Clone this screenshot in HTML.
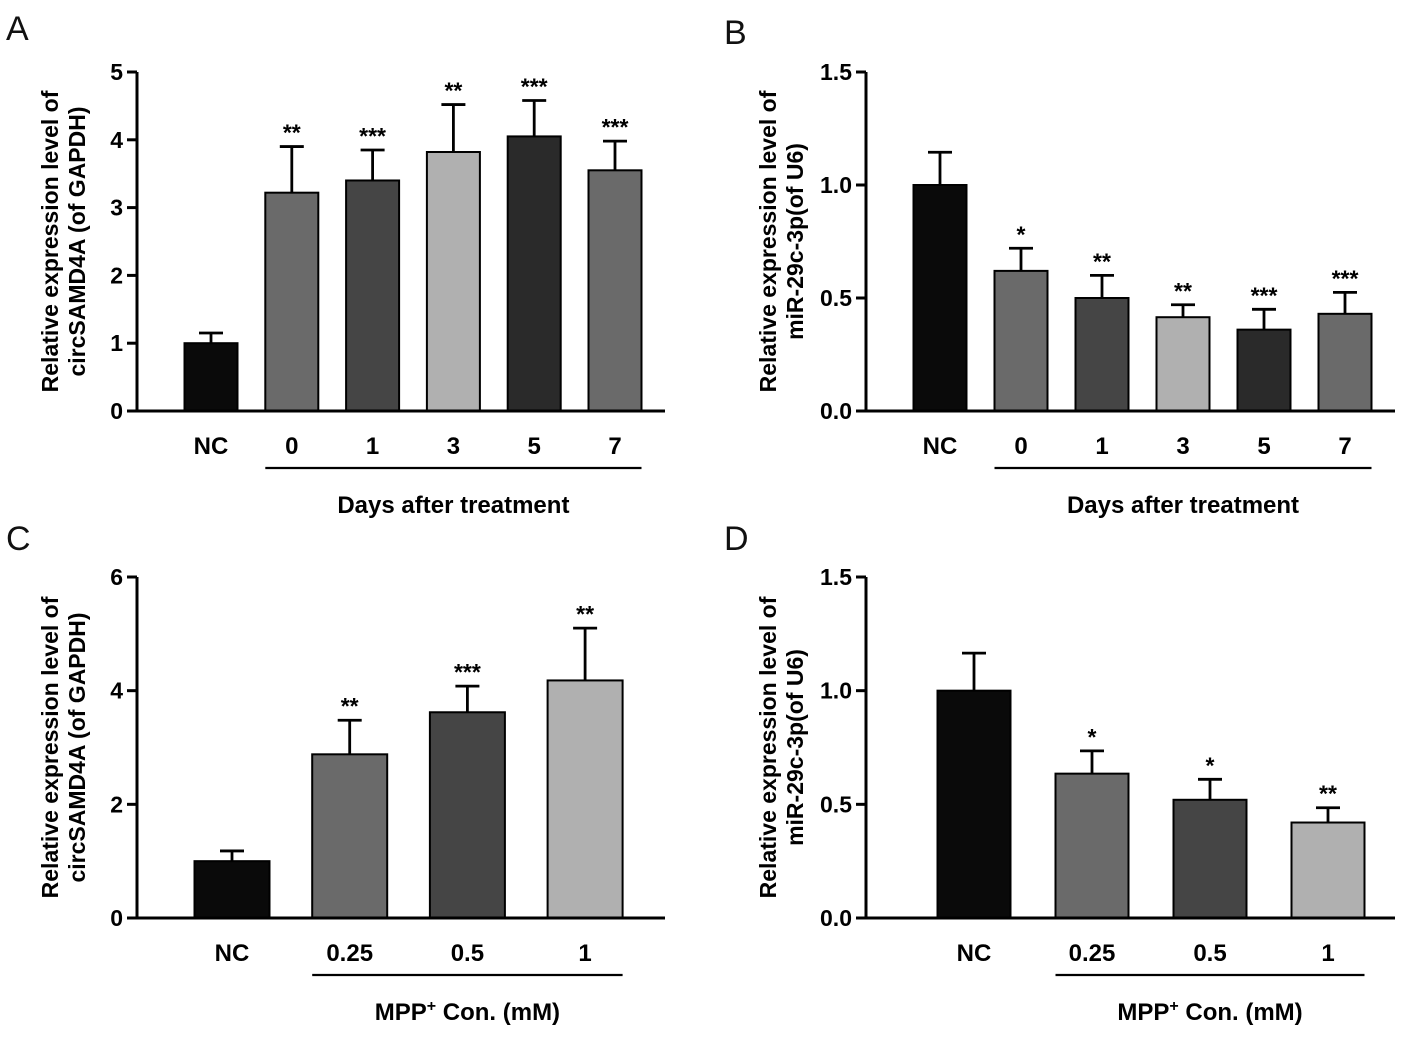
<!DOCTYPE html>
<html><head><meta charset="utf-8"><style>
html,body{margin:0;padding:0;background:#fff}
svg text{font-family:"Liberation Sans",Arial,sans-serif}
</style></head><body>
<svg id="fig" width="1427" height="1041" viewBox="0 0 1427 1041" xmlns="http://www.w3.org/2000/svg"></svg>
<script>
// Panel A data
const catsA = ["NC","0","1","3","5","7"];
const valsA = [1.0,3.22,3.4,3.82,4.05,3.55];
const errA = [0.15,0.68,0.45,0.7,0.53,0.43];
const sigA = ["","**","***","**","***","***"];
const ticksA = [0,1,2,3,4,5];
// Panel B data
const catsB = ["NC","0","1","3","5","7"];
const valsB = [1.0,0.62,0.5,0.415,0.36,0.43];
const errB = [0.145,0.1,0.1,0.055,0.09,0.095];
const sigB = ["","*","**","**","***","***"];
const ticksB = ["0.0","0.5","1.0","1.5"];
// Panel C data
const catsC = ["NC","0.25","0.5","1"];
const valsC = [1.0,2.88,3.62,4.18];
const errC = [0.18,0.6,0.46,0.92];
const sigC = ["","**","***","**"];
const ticksC = [0,2,4,6];
// Panel D data
const catsD = ["NC","0.25","0.5","1"];
const valsD = [1.0,0.635,0.52,0.42];
const errD = [0.165,0.1,0.09,0.065];
const sigD = ["","*","*","**"];
const ticksD = ["0.0","0.5","1.0","1.5"];

const colors6 = ["#0a0a0a","#6a6a6a","#454545","#b0b0b0","#2a2a2a","#6a6a6a"];
const colors4 = ["#0a0a0a","#6a6a6a","#454545","#b0b0b0"];
const NS="http://www.w3.org/2000/svg";
const svg=document.getElementById('fig');
function mk(tag,attrs,parent){const e=document.createElementNS(NS,tag);for(const k in attrs)e.setAttribute(k,attrs[k]);(parent||svg).appendChild(e);return e;}

function panel(o){
  const g=mk('g',{});
  
  
  const ymax=parseFloat(o.ticks[o.ticks.length-1]);
  const y=v=>o.y0-(v/ymax)*(o.y0-o.y1);
  const x=i=>o.xStart+i*o.step;
  const L=mk('text',{x:o.lx,y:o.ly,'font-size':34,fill:'#111'},g);L.textContent=o.letter;
  
  
  o.vals.forEach((v,i)=>{
    const cx=x(i);
    const b=mk('rect',{x:cx-o.bw/2,y:y(v),width:o.bw,height:o.y0-y(v),fill:o.colors[i],stroke:'#000','stroke-width':2},g);
    
    
    const top=y(v+o.err[i]);
    const e=mk('path',{d:`M${cx} ${y(v)}V${top}M${cx-12} ${top}H${cx+12}`,stroke:'#000','stroke-width':2.8,fill:'none'},g);
    
    
    if(o.sig[i]){const s=mk('text',{x:cx,y:top-6,'font-size':23,'font-weight':'bold','text-anchor':'middle'},g);s.textContent=o.sig[i];
      
      }
    const t=mk('text',{x:cx,y:o.y0+43,'font-size':24,'font-weight':'bold','text-anchor':'middle'},g);t.textContent=o.cats[i];
    
    
  });
  const ax=mk('path',{d:`M${o.ax} ${o.y1}V${o.y0}H${o.axEnd}`,stroke:'#000','stroke-width':3,fill:'none'},g);
  
  
  o.ticks.forEach(tk=>{
    const yy=y(parseFloat(tk));
    mk('line',{x1:o.ax-10,x2:o.ax,y1:yy,y2:yy,stroke:'#000','stroke-width':3},g);
    const t=mk('text',{x:o.ax-14,y:yy+8,'font-size':23,'font-weight':'bold','text-anchor':'end'},g);t.textContent=tk;
    
    
  });
  const yt=mk('text',{transform:`translate(${o.ytx},${(o.y0+o.y1)/2}) rotate(-90)`,'font-size':23,'font-weight':'bold','text-anchor':'middle'},g);
  
  
  o.ytitle.forEach((line,k)=>{const ts=mk('tspan',{x:0,y:k*27},yt);ts.textContent=line;});
  const ul=mk('line',{x1:x(1)-o.bw/2,x2:x(o.cats.length-1)+o.bw/2,y1:o.y0+57,y2:o.y0+57,stroke:'#000','stroke-width':2.2},g);
  
  
  const xt=mk('text',{x:(x(1)+x(o.cats.length-1))/2,y:o.y0+102,'font-size':24,'font-weight':'bold','text-anchor':'middle'},g);
  
  
  if(o.mpp){const a=mk('tspan',{},xt);a.textContent='MPP';const b=mk('tspan',{'font-size':16,dy:-9},xt);b.textContent='+';const c=mk('tspan',{dy:9},xt);c.textContent=' Con. (mM)';}
  else xt.textContent=o.xtitle;
}
panel({letter:'A',lx:6,ly:40,cats:catsA,vals:valsA,err:errA,sig:sigA,ticks:ticksA,colors:colors6,
  y0:411,y1:72,ax:137,axEnd:665,xStart:211,step:80.8,bw:53,ytx:58,ytitle:['Relative expression level of','circSAMD4A (of GAPDH)'],xtitle:'Days after treatment'});
panel({letter:'B',lx:724,ly:44,cats:catsB,vals:valsB,err:errB,sig:sigB,ticks:ticksB,colors:colors6,
  y0:411,y1:72,ax:866,axEnd:1395,xStart:940,step:81,bw:53,ytx:776,ytitle:['Relative expression level of','miR-29c-3p(of U6)'],xtitle:'Days after treatment'});
panel({letter:'C',lx:6,ly:550,cats:catsC,vals:valsC,err:errC,sig:sigC,ticks:ticksC,colors:colors4,mpp:true,
  y0:918,y1:577,ax:137,axEnd:665,xStart:232,step:117.7,bw:75,ytx:58,ytitle:['Relative expression level of','circSAMD4A (of GAPDH)']});
panel({letter:'D',lx:724,ly:550,cats:catsD,vals:valsD,err:errD,sig:sigD,ticks:ticksD,colors:colors4,mpp:true,
  y0:918,y1:577,ax:866,axEnd:1395,xStart:974,step:118,bw:73,ytx:776,ytitle:['Relative expression level of','miR-29c-3p(of U6)']});
</script>
</body></html>
